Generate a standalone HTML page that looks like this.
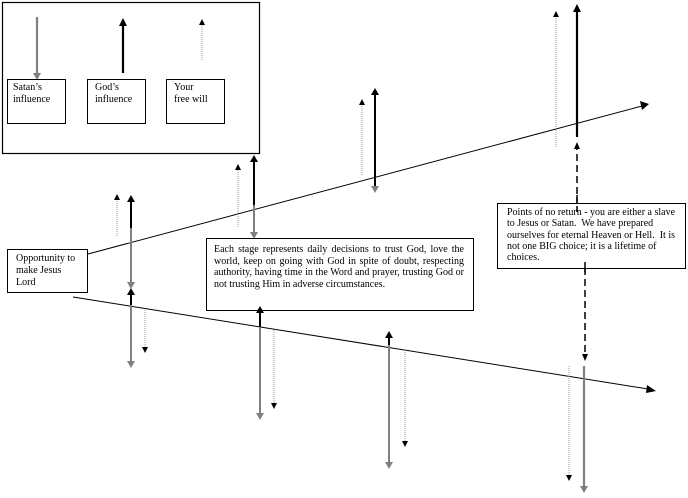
<!DOCTYPE html>
<html><head><meta charset="utf-8"><style>
html,body{margin:0;padding:0;background:#fff;}
svg{display:block;}
text{font-family:"Liberation Serif",serif;font-size:10px;fill:#000;}
.box{position:absolute;border:1px solid #000;background:#fff;font-family:"Liberation Serif",serif;font-size:10px;line-height:11.5px;box-sizing:border-box;}
</style></head><body>
<div style="position:relative;width:688px;height:498px;overflow:hidden;">
<svg width="688" height="498" viewBox="0 0 688 498" style="position:absolute;left:0;top:0">
<defs>
<marker id="hb" markerWidth="8" markerHeight="8" refX="4" refY="7" orient="auto-start-reverse" markerUnits="userSpaceOnUse"><path d="M0,8 L4,0 L8,8 Z" fill="#000"/></marker>
</defs>
<g fill="none">
<!-- legend box -->
<rect x="2.5" y="2.5" width="257" height="151" stroke="#000" stroke-width="1.2"/>
<line x1="37" y1="17" x2="37" y2="74" stroke="#808080" stroke-width="2.2"/>
<path d="M33,73 L41,73 L37,80 Z" fill="#808080"/>
<line x1="123" y1="73" x2="123" y2="24" stroke="#000" stroke-width="2.2"/>
<path d="M119,26 L127,26 L123,18 Z" fill="#000"/>
<line x1="202" y1="60" x2="202" y2="25" stroke="#999" stroke-width="1" stroke-dasharray="1,1"/>
<path d="M199,25 L205,25 L202,19 Z" fill="#000"/>
<rect x="7.5" y="79.5" width="58" height="44" stroke="#000"/>
<rect x="87.5" y="79.5" width="58" height="44" stroke="#000"/>
<rect x="166.5" y="79.5" width="58" height="44" stroke="#000"/>

<!-- main lines -->
<line x1="88" y1="254" x2="642" y2="106" stroke="#000" stroke-width="1"/>
<path d="M640,101 L649,104 L642,110 Z" fill="#000"/>
<line x1="73" y1="297" x2="648" y2="389" stroke="#000" stroke-width="1"/>
<path d="M647,385 L656,391 L646,393 Z" fill="#000"/>

<!-- stage 1 -->
<line x1="117" y1="236" x2="117" y2="198" stroke="#999" stroke-dasharray="1,1"/>
<path d="M114,200 L120,200 L117,194 Z" fill="#000"/>
<line x1="131" y1="228" x2="131" y2="200" stroke="#000" stroke-width="2"/>
<path d="M127,202 L135,202 L131,195 Z" fill="#000"/>
<line x1="131" y1="228" x2="131" y2="283" stroke="#808080" stroke-width="2"/>
<path d="M127,282 L135,282 L131,289 Z" fill="#808080"/>
<line x1="131" y1="305" x2="131" y2="293" stroke="#000" stroke-width="2"/>
<path d="M127,295 L135,295 L131,288 Z" fill="#000"/>
<line x1="131" y1="305" x2="131" y2="362" stroke="#808080" stroke-width="2"/>
<path d="M127,361 L135,361 L131,368 Z" fill="#808080"/>
<line x1="145" y1="310" x2="145" y2="348" stroke="#999" stroke-dasharray="1,1"/>
<path d="M142,347 L148,347 L145,353 Z" fill="#000"/>

<!-- stage 2 -->
<line x1="238" y1="227" x2="238" y2="169" stroke="#999" stroke-dasharray="1,1"/>
<path d="M235,170 L241,170 L238,164 Z" fill="#000"/>
<line x1="254" y1="205" x2="254" y2="160" stroke="#000" stroke-width="2"/>
<path d="M250,162 L258,162 L254,155 Z" fill="#000"/>
<line x1="254" y1="205" x2="254" y2="233" stroke="#808080" stroke-width="2"/>
<path d="M250,232 L258,232 L254,239 Z" fill="#808080"/>
<line x1="260" y1="327" x2="260" y2="314" stroke="#000" stroke-width="2"/>
<line x1="260" y1="327" x2="260" y2="414" stroke="#808080" stroke-width="2"/>
<path d="M256,413 L264,413 L260,420 Z" fill="#808080"/>
<line x1="274" y1="330" x2="274" y2="404" stroke="#999" stroke-dasharray="1,1"/>
<path d="M271,403 L277,403 L274,409 Z" fill="#000"/>

<!-- stage 3 -->
<line x1="362" y1="175" x2="362" y2="104" stroke="#999" stroke-dasharray="1,1"/>
<path d="M359,105 L365,105 L362,99 Z" fill="#000"/>
<line x1="375" y1="186" x2="375" y2="93" stroke="#000" stroke-width="2"/>
<path d="M371,95 L379,95 L375,88 Z" fill="#000"/>
<path d="M371,186 L379,186 L375,193 Z" fill="#808080"/>
<line x1="389" y1="345" x2="389" y2="336" stroke="#000" stroke-width="2"/>
<path d="M385,338 L393,338 L389,331 Z" fill="#000"/>
<line x1="389" y1="345" x2="389" y2="463" stroke="#808080" stroke-width="2"/>
<path d="M385,462 L393,462 L389,469 Z" fill="#808080"/>
<line x1="405" y1="350" x2="405" y2="442" stroke="#999" stroke-dasharray="1,1"/>
<path d="M402,441 L408,441 L405,447 Z" fill="#000"/>

<!-- stage 4 -->
<line x1="556" y1="147" x2="556" y2="16" stroke="#999" stroke-dasharray="1,1"/>
<path d="M553,17 L559,17 L556,11 Z" fill="#000"/>
<line x1="577" y1="137" x2="577" y2="10" stroke="#000" stroke-width="2.2"/>
<path d="M573,12 L581,12 L577,4 Z" fill="#000"/>
<line x1="577" y1="205" x2="577" y2="148" stroke="#000" stroke-width="1.5" stroke-dasharray="7,4"/>
<path d="M574,149 L580,149 L577,142 Z" fill="#000"/>
<line x1="585" y1="268" x2="585" y2="355" stroke="#000" stroke-width="1.5" stroke-dasharray="7,4"/>
<path d="M582,354 L588,354 L585,361 Z" fill="#000"/>
<line x1="569" y1="366" x2="569" y2="476" stroke="#999" stroke-dasharray="1,1"/>
<path d="M566,475 L572,475 L569,481 Z" fill="#000"/>
<line x1="584" y1="366" x2="584" y2="487" stroke="#808080" stroke-width="2.2"/>
<path d="M580,486 L588,486 L584,493 Z" fill="#808080"/>
</g>
</svg>
<div class="box" style="left:0;top:0;border:none;background:none;"></div>
<div class="box" style="left:7px;top:79px;width:59px;height:45px;padding:3px 0 0 6px;background:none;border:none;">Satan’s<br>influence</div>
<div class="box" style="left:87px;top:79px;width:59px;height:45px;padding:3px 0 0 8px;background:none;border:none;">God’s<br>influence</div>
<div class="box" style="left:166px;top:79px;width:59px;height:45px;padding:3px 0 0 8px;background:none;border:none;">Your<br>free will</div>
<div class="box" style="left:7px;top:249px;width:81px;height:44px;padding:3px 0 0 8px;line-height:12px;">Opportunity to<br>make Jesus<br>Lord</div>
<div class="box" style="left:206px;top:238px;width:268px;height:73px;padding:5px 9px 0 7px;line-height:11.7px;text-align:justify;">Each stage represents daily decisions to trust God, love the world, keep on going with God in spite of doubt, respecting authority, having time in the Word and prayer, trusting God or not trusting Him in adverse circumstances.</div>
<div class="box" style="left:497px;top:203px;width:189px;height:66px;padding:3px 4px 0 9px;line-height:11.3px;">Points of no return - you are either a slave to Jesus or Satan.&nbsp; We have prepared ourselves for eternal Heaven or Hell.&nbsp; It is not one BIG choice; it is a lifetime of choices.</div>
<svg width="688" height="498" style="position:absolute;left:0;top:0;pointer-events:none">
<line x1="577" y1="195" x2="577" y2="212" stroke="#000" stroke-width="1.5" stroke-dasharray="7,4"/>
<line x1="585" y1="262" x2="585" y2="272" stroke="#000" stroke-width="1.5"/>
<line x1="260" y1="314" x2="260" y2="309" stroke="#000" stroke-width="2"/>
<path d="M256,313 L264,313 L260,306 Z" fill="#000"/>
</svg>
</div>
</body></html>
